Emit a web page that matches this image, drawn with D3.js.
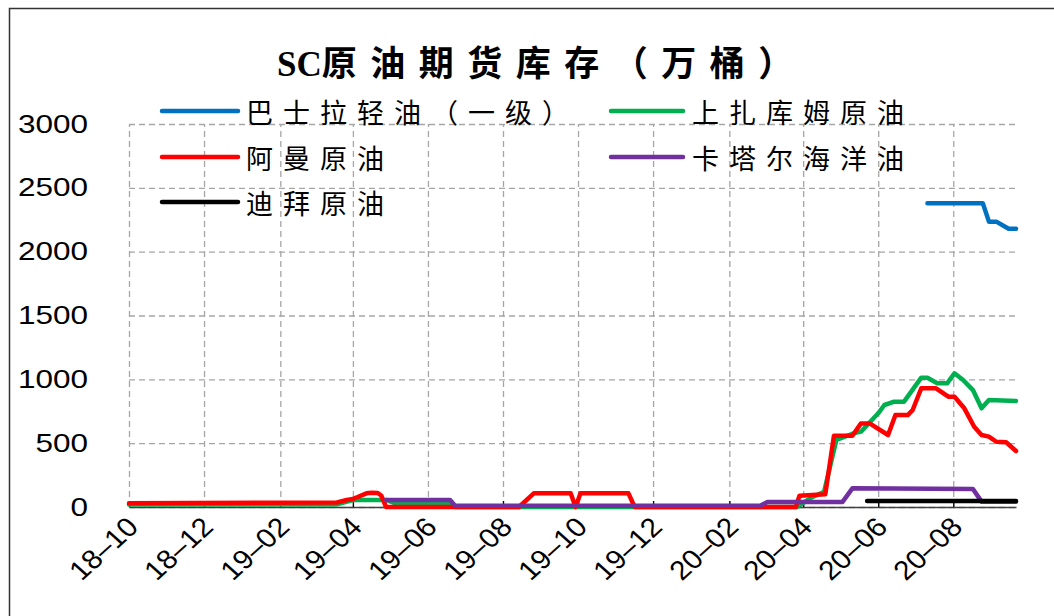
<!DOCTYPE html>
<meta charset="utf-8">
<style>
body { margin: 0; background: #fff; }
svg { display: block; }
.grid line { stroke: #a6a6a6; stroke-dasharray: 6,4; stroke-width: 1.3; }
.grid path { display: none; }
.ylab text { font-family: "Liberation Sans", Arial, sans-serif; font-size: 25px; fill: #000; }
.x.axis text { font-family: "Liberation Sans", Arial, sans-serif; font-size: 27px; fill: #000; }
.x.axis path { stroke: #404040; stroke-width: 1.5; }
.x.axis line { stroke: #000; stroke-width: 1.3; }
.series { fill: none; stroke-width: 4.5; stroke-linejoin: round; stroke-linecap: round; }
.legend text { font-family: "Noto Sans CJK SC", sans-serif; font-size: 27px; letter-spacing: 10px; fill: #000; }
</style>
<body>
<script src="https://cdn.jsdelivr.net/npm/d3@7"></script>
<script>

// ---- data ----
var seriesNames = ["巴士拉轻油（一级）", "上扎库姆原油", "阿曼原油", "卡塔尔海洋油", "迪拜原油"];

var basra = [["2020-07-11",2380],["2020-08-25",2380],["2020-08-30",2235],["2020-09-05",2235],
  ["2020-09-15",2180],["2020-09-21",2180]];

var upperZakum = [["2018-10-01",20],["2019-03-19",20],["2019-04-01",55],["2019-04-28",55],
  ["2019-05-05",30],["2019-06-19",30],["2019-06-23",0],["2020-03-27",0],["2020-04-07",70],
  ["2020-04-18",120],["2020-04-28",525],["2020-05-12",577],["2020-05-18",590],["2020-06-01",734],
  ["2020-06-06",799],["2020-06-14",825],["2020-06-22",825],["2020-07-06",1013],["2020-07-11",1013],
  ["2020-07-19",969],["2020-07-27",969],["2020-08-02",1047],["2020-08-09",995],["2020-08-17",916],
  ["2020-08-24",773],["2020-08-30",838],["2020-09-21",830]];

var oman = [["2018-10-01",30],["2019-03-19",35],["2019-03-27",55],["2019-04-01",63],["2019-04-12",107],
  ["2019-04-16",112],["2019-04-21",110],["2019-04-24",90],["2019-04-28",0],["2019-08-14",0],
  ["2019-08-26",107],["2019-09-25",107],["2019-09-29",0],["2019-10-03",107],["2019-11-11",107],
  ["2019-11-16",0],["2020-03-26",0],["2020-03-29",88],["2020-04-19",100],["2020-04-26",558],
  ["2020-05-11",558],["2020-05-18",655],["2020-05-25",655],["2020-06-09",564],["2020-06-15",720],
  ["2020-06-25",720],["2020-06-29",760],["2020-07-06",930],["2020-07-18",930],["2020-07-28",864],
  ["2020-08-02",864],["2020-08-10",773],["2020-08-18",629],["2020-08-24",564],["2020-08-30",551],
  ["2020-09-05",511],["2020-09-13",507],["2020-09-21",439]];

var qatarMarine = [["2019-04-28",55],["2019-06-19",55],["2019-06-23",10],["2020-02-26",10],
  ["2020-03-03",40],["2020-05-03",40],["2020-05-11",146],["2020-08-17",141],["2020-08-24",42],
  ["2020-09-21",42]];

var dubai = [["2020-05-23",47],["2020-09-21",47]];

var xTicks = ["2018-10-01","2018-12-01","2019-02-01","2019-04-01","2019-06-01","2019-08-01",
  "2019-10-01","2019-12-01","2020-02-01","2020-04-01","2020-06-01","2020-08-01"];
var yTicks = [0, 500, 1000, 1500, 2000, 2500, 3000];

var colors = ["#0070C0", "#00B050", "#FF0000", "#7030A0", "#000000"];

// ---- layout ----
var width = 1054, height = 616;
var plotLeft = 129, plotRight = 1016, plotTop = 124, plotBottom = 507;
var stretch = 1.26;  // the source text looks widened
var xStretch = 1.1;

var parse = d3.timeParse("%Y-%m-%d");

var x = d3.scaleTime()
    .domain([parse("2018-10-01"), parse("2020-09-21")])
    .range([plotLeft, plotRight]);

var y = d3.scaleLinear()
    .domain([0, 3000])
    .range([plotBottom, plotTop]);

var svg = d3.select("body").append("svg")
    .attr("width", width)
    .attr("height", height);

// outer frame
svg.append("rect")
    .attr("x", 9.5).attr("y", 8.5)
    .attr("width", 1070).attr("height", 640)
    .attr("fill", "none")
    .attr("stroke", "#333")
    .attr("stroke-width", 1.5);

// title
var title = svg.append("text")
    .attr("x", 542).attr("y", 76)
    .attr("text-anchor", "middle")
    .style("font-size", "35px")
    .style("font-weight", "bold");
title.append("tspan").style("font-family", "'Liberation Serif', serif").text("SC");
title.append("tspan")
    .style("font-family", "'Noto Sans CJK SC', sans-serif")
    .style("letter-spacing", "13.5px")
    .text("原油期货库存（万桶）");

// horizontal grid + y labels
var yAxis = svg.append("g")
    .attr("class", "grid ylab")
    .attr("transform", "translate(" + plotLeft + ",0)")
    .call(d3.axisLeft(y).tickValues(yTicks).tickSize(-(plotRight - plotLeft)).tickFormat(d3.format("d")));
yAxis.selectAll("text")
    .attr("x", -41 / stretch)
    .attr("transform", "scale(" + stretch + ",1)");

// vertical grid
svg.append("g")
    .attr("class", "grid")
    .attr("transform", "translate(0," + plotBottom + ")")
    .call(d3.axisBottom(x).tickValues(xTicks.map(parse)).tickSize(-(plotBottom - plotTop)).tickFormat(""));

// x axis
var xAxis = svg.append("g")
    .attr("class", "x axis")
    .attr("transform", "translate(0," + plotBottom + ")")
    .call(d3.axisBottom(x)
        .tickValues(xTicks.map(parse))
        .tickSizeInner(-6)
        .tickSizeOuter(0)
        .tickFormat(d3.timeFormat("%y–%m")));
xAxis.selectAll("text")
    .attr("x", 0).attr("y", 0).attr("dy", "0.35em")
    .attr("text-anchor", "end")
    .attr("transform", "translate(3,15) scale(" + xStretch + ",1) rotate(-45)");

// lines
var line = d3.line()
    .x(function(d) { return x(parse(d[0])); })
    .y(function(d) { return y(d[1]); });

var allSeries = [basra, upperZakum, oman, qatarMarine, dubai];

svg.selectAll(".series")
    .data(allSeries)
  .enter().append("path")
    .attr("class", "series")
    .attr("stroke", function(d, i) { return colors[i]; })
    .attr("d", line);

// legend
var legendPos = [[162, 111], [611, 111], [162, 157], [611, 157], [162, 202]];

var legend = svg.append("g").attr("class", "legend")
    .selectAll("g")
    .data(seriesNames)
  .enter().append("g")
    .attr("transform", function(d, i) { return "translate(" + legendPos[i][0] + "," + legendPos[i][1] + ")"; });

legend.append("line")
    .attr("x1", 0).attr("x2", function(d, i) { return i % 2 ? 72 : 76; })
    .attr("stroke", function(d, i) { return colors[i]; })
    .attr("stroke-width", 4.5)
    .attr("stroke-linecap", "round");

legend.append("text")
    .attr("x", function(d, i) { return i % 2 ? 81 : 84; })
    .attr("dominant-baseline", "central")
    .text(function(d) { return d; });

</script>
</body>
</html>
